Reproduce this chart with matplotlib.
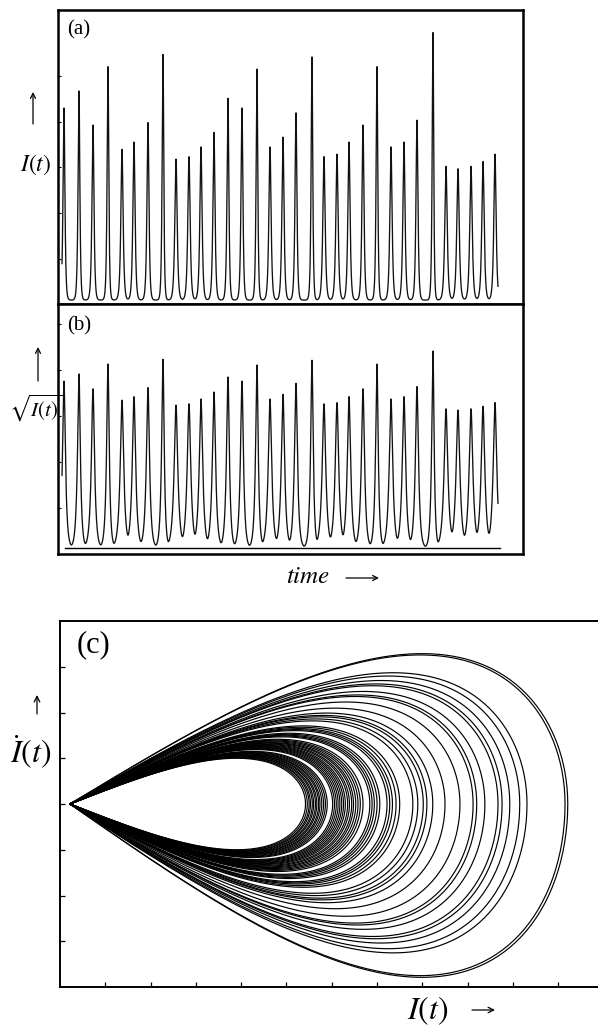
import numpy as np
import matplotlib
matplotlib.use("Agg")
import matplotlib.pyplot as plt
from matplotlib.patches import FancyArrowPatch

# ---------------- data ----------------
# panel (a)/(b): pulse times (time units) and pulse peak intensities I (arb. units)
peak_times = [6, 21, 35, 50, 64, 76, 90, 105, 118, 131, 143, 156, 170, 184, 199,
              212, 225, 238, 254, 266, 279, 291, 305, 319, 333, 346, 359, 375,
              388, 400, 413, 425, 437]
peak_heights = [7.9, 8.6, 7.2, 9.6, 6.2, 6.5, 7.3, 10.1, 5.8, 5.9, 6.3, 6.9, 8.3,
                7.9, 9.5, 6.3, 6.7, 7.7, 10.0, 5.9, 6.0, 6.5, 7.2, 9.6, 6.3, 6.5,
                7.4, 11.0, 5.5, 5.4, 5.5, 5.7, 6.0]
record_start, record_end = 4, 440

# panel (c): peak intensity of each loop of the phase portrait
loop_peaks = [5.20, 5.24, 5.28, 5.31, 5.35, 5.38, 5.42, 5.45, 5.49, 5.52, 5.56,
              5.60, 5.64, 5.68, 5.80, 5.84, 5.88, 5.92, 5.96, 6.00, 6.04, 6.08,
              6.13, 6.17, 6.22, 6.26, 6.31, 6.36, 6.41, 6.47,
              6.62, 6.67, 6.72, 6.78, 6.84, 7.00, 7.06, 7.12, 7.20, 7.28,
              7.57, 7.68, 7.80, 7.88, 8.01, 8.28, 8.61, 8.90, 8.98, 9.16,
              9.45, 9.54, 9.71, 9.93, 10.09, 10.93, 10.99]

# ---------------- pulse model ----------------
def pulse_times_const(A):
    """rise / fall time constants of a sech-shaped pulse of peak A."""
    hu = (A / 5.2) ** 1.59
    hl = (A / 5.2) ** 1.78
    return 0.5 * A / hu, 0.5 * A / hl

TS_SCALE = 0.42  # time units of the record per phase-portrait time unit

t = np.arange(record_start, record_end, 0.02)
I = np.zeros_like(t)
for tk, A in zip(peak_times, peak_heights):
    tr, tf = pulse_times_const(A)
    tau = np.where(t < tk, tr * TS_SCALE, tf * TS_SCALE)
    I += A / np.cosh((t - tk) / tau)

# ---------------- figure ----------------
plt.rcParams["mathtext.fontset"] = "stix"
plt.rcParams["font.family"] = ["Liberation Serif", "DejaVu Serif"]

W, H = 598, 1028
fig = plt.figure(figsize=(W / 100, H / 100), dpi=100)

def box(x0, y0, x1, y1):
    return [x0 / W, 1 - y1 / H, (x1 - x0) / W, (y1 - y0) / H]

def ftxt(x, y, s, **kw):
    fig.text(x / W, 1 - y / H, s, ha="center", va="center", **kw)

def farrow(x0, y0, x1, y1, ms=9, lw=0.9):
    fig.add_artist(FancyArrowPatch((x0 / W, 1 - y0 / H), (x1 / W, 1 - y1 / H),
                                   transform=fig.transFigure, arrowstyle="->",
                                   mutation_scale=ms, lw=lw, color="black",
                                   shrinkA=0, shrinkB=0))

axA = fig.add_axes(box(58, 10, 523, 304))
axB = fig.add_axes(box(58, 304, 523, 554))
axC = fig.add_axes(box(60, 621, 604, 987))

# (a)
axA.plot(t, I, color="#111111", lw=0.95)
axA.set_xlim(0, 465)
axA.set_ylim(-0.16, 11.93)
axA.set_xticks([])
axA.set_yticks([1.69, 3.58, 5.46, 7.34, 9.22])
axA.tick_params(axis="y", direction="in", length=2.5, width=0.8, labelleft=False)
for s in axA.spines.values():
    s.set_linewidth(1.8)

# (b)
axB.plot(t, np.sqrt(I), color="#111111", lw=0.95)
axB.plot([7, 442], [0, 0], color="black", lw=1.0)
axB.set_xlim(0, 465)
axB.set_ylim(-0.10, 4.11)
axB.set_xticks([])
axB.set_yticks([0.67, 1.45, 2.22, 3.0, 3.77])
axB.tick_params(axis="y", direction="in", length=2.5, width=0.8, labelleft=False)
for s in axB.spines.values():
    s.set_linewidth(1.8)

# (c) phase portrait dI/dt vs I
for A in loop_peaks:
    tr, tf = pulse_times_const(A)
    s = np.concatenate([np.linspace(-14 * tr, 0, 500), np.linspace(0, 14 * tf, 500)[1:]])
    tau = np.where(s < 0, tr, tf)
    x = A / np.cosh(s / tau)
    y = -x / tau * np.tanh(s / tau)
    axC.plot(x, y, color="black", lw=0.85)
axC.set_xlim(-0.22, 11.79)
axC.set_ylim(-4, 4)
axC.set_xticks([k - 0.22 for k in range(1, 12)])
axC.set_yticks([-3, -2, -1, 0, 1, 2, 3])
axC.tick_params(direction="in", length=3.6, width=0.9, labelleft=False, labelbottom=False)
axC.spines["right"].set_visible(False)
for s in ["left", "top", "bottom"]:
    axC.spines[s].set_linewidth(1.4)

# ---------------- labels ----------------
fig.text(67 / W, 1 - 30 / H, "(a)", ha="left", va="center", fontsize=15)
fig.text(67 / W, 1 - 326 / H, "(b)", ha="left", va="center", fontsize=15)
fig.text(77 / W, 1 - 645 / H, "(c)", ha="left", va="center", fontsize=22)

ftxt(36, 165, "$I(t)$", fontsize=17)
farrow(33, 124, 33, 92)
ftxt(36, 408, r"$\sqrt{I(t)}$", fontsize=15)
farrow(38, 381, 38, 347)

ftxt(308, 577, "$time$", fontsize=18)
farrow(346, 578, 379, 578)

ftxt(31, 752, r"$\dot{I}(t)$", fontsize=23)
farrow(37, 714, 37, 695, ms=10)
ftxt(428, 1011, "$I(t)$", fontsize=23)
farrow(472, 1010, 495, 1010, ms=10)

fig.savefig("out.png", dpi=100)
